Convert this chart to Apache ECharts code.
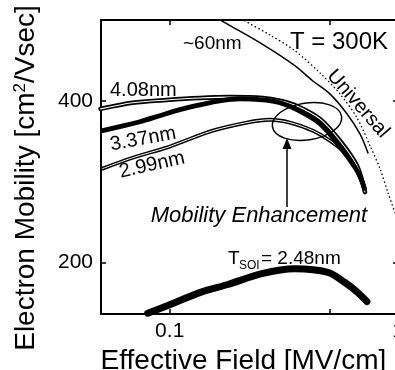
<!DOCTYPE html>
<html>
<head>
<meta charset="utf-8">
<script src="https://cdn.jsdelivr.net/npm/echarts@6/dist/echarts.min.js"></script>
<style>
  html, body { margin: 0; padding: 0; overflow: hidden; background: #fff; }
  #chart { width: 400px; height: 370px; }
</style>
</head>
<body>
<div id="chart"></div>
<script>
// Effective field [MV/cm] vs electron mobility [cm2/Vsec] for several SOI thicknesses
const tsoi408 = [[0.0498, 390], [0.0688, 397.5], [0.097, 401], [0.1354, 403.5], [0.1833, 404.5],
  [0.2558, 403.5], [0.3038, 400], [0.3606, 393.5], [0.455, 377.5], [0.5567, 350.5], [0.661, 319.5], [0.7166, 287]];
const tsoi337 = [[0.0508, 363], [0.0604, 368], [0.0739, 374], [0.0904, 381.5], [0.1106, 389], [0.1354, 395],
  [0.1656, 400], [0.2028, 402.5], [0.2558, 401], [0.3038, 397.5], [0.3606, 389], [0.455, 371.5],
  [0.5567, 343], [0.661, 313.5], [0.7093, 293.5]];
const tsoi299 = [[0.0508, 316], [0.0688, 329.5], [0.097, 342], [0.1106, 348], [0.1544, 363], [0.2177, 373],
  [0.2746, 376.5], [0.336, 373], [0.4238, 363], [0.5032, 350.5], [0.5855, 335.5], [0.661, 313.5], [0.7166, 291]];
const tsoi248 = [[0.0801, 137], [0.1, 147.5], [0.1354, 162.5], [0.1796, 172.5], [0.2532, 186], [0.3533, 192],
  [0.4932, 187.5], [0.5855, 175], [0.661, 163.5], [0.7311, 151.5]];
const tsoi60 = [[0.1575, 505], [0.1691, 499], [0.2532, 470.5], [0.3533, 443.5], [0.4238, 424.5], [0.5032, 408.5],
  [0.5974, 384], [0.6814, 359], [0.7386, 335.5]];
const universal = [[0.1987, 505], [0.2133, 499], [0.2746, 481.5], [0.3533, 462], [0.455, 434.5], [0.5567, 408.5],
  [0.661, 379], [0.7537, 344.5], [0.8338, 316], [0.9041, 286], [0.98, 258]];

const xTickValues = [0.1, 0.5, 1];
const xLabelValues = [0.1, 1];
const yTickValues = [200, 400];

const FONT = '"Liberation Sans", Arial, sans-serif';
const black = '#000';

const chart = echarts.init(document.getElementById('chart'), null, { renderer: 'canvas' });

function lineSeries(name, data, width, color, extra) {
  return Object.assign({
    name: name, type: 'line', data: data, smooth: 0.3, showSymbol: false, symbol: 'none',
    lineStyle: { color: color, width: width, cap: 'round', join: 'round' },
    emphasis: { disabled: true }, silent: true, z: 2
  }, extra || {});
}

const axisLineStyle = { color: black, width: 2 };

chart.setOption({
  animation: false,
  grid: { left: 101, top: 20, right: 2, bottom: 56, outerBoundsMode: 'none', containLabel: false },
  xAxis: [{
    type: 'log', logBase: 10, min: 0.05, max: 1, position: 'bottom',
    axisLine: { show: true, lineStyle: axisLineStyle },
    axisTick: { show: true, inside: true, length: 5, customValues: xTickValues, lineStyle: { color: black, width: 1.5 } },
    axisLabel: { customValues: xLabelValues, formatter: v => String(v), fontSize: 21, color: black, fontFamily: FONT, margin: 7 },
    splitLine: { show: false }, minorTick: { show: false },
    name: 'Effective Field [MV/cm]', nameLocation: 'middle', nameGap: 22,
    nameTextStyle: { fontSize: 28, color: black, fontFamily: FONT, padding: [0, 12, 0, 0] }
  }, {
    type: 'log', logBase: 10, min: 0.05, max: 1, position: 'top',
    axisLine: { show: true, lineStyle: axisLineStyle },
    axisTick: { show: true, inside: true, length: 5, customValues: xTickValues, lineStyle: { color: black, width: 1.5 } },
    axisLabel: { show: false }, splitLine: { show: false }
  }],
  yAxis: [{
    type: 'value', min: 136, max: 500, position: 'left',
    axisLine: { show: true, lineStyle: axisLineStyle },
    axisTick: { show: true, inside: true, length: 5, customValues: yTickValues, lineStyle: { color: black, width: 1.5 } },
    axisLabel: { customValues: yTickValues, fontSize: 21, color: black, fontFamily: FONT, margin: 8 },
    splitLine: { show: false },
    name: 'Electron Mobility [cm{sup|2}/Vsec]', nameLocation: 'middle', nameGap: 61,
    nameTextStyle: {
      fontSize: 28, color: black, fontFamily: FONT, padding: [0, 22, 0, 0],
      rich: { sup: { fontSize: 17, color: black, fontFamily: FONT, verticalAlign: 'top', lineHeight: 28 } }
    }
  }, {
    type: 'value', min: 136, max: 500, position: 'right',
    axisLine: { show: true, lineStyle: axisLineStyle },
    axisTick: { show: true, inside: true, length: 5, customValues: yTickValues, lineStyle: { color: black, width: 1.5 } },
    axisLabel: { show: false }, splitLine: { show: false }
  }],
  series: [
    lineSeries('~60nm', tsoi60, 1.5, black),
    lineSeries('Universal', universal, 1.3, black, { lineStyle: { color: black, width: 1.3, type: [1.5, 2.5] } }),
    lineSeries('4.08nm', tsoi408, 4.6, black),
    lineSeries('4.08nm inner', tsoi408, 1.1, '#fff', { z: 3 }),
    lineSeries('2.99nm', tsoi299, 3.8, black, { z: 4 }),
    lineSeries('2.99nm inner', tsoi299, 1.0, '#fff', { z: 5 }),
    lineSeries('3.37nm', tsoi337, 4.8, black, { z: 6 }),
    lineSeries('2.48nm', tsoi248, 7, black, { z: 6 })
  ],
  graphic: [
    { type: 'text', x: 290, y: 42, style: { text: 'T = 300K', font: '24px ' + FONT, fill: black, verticalAlign: 'middle' } },
    { type: 'text', x: 183, y: 44, style: { text: '~60nm', font: '19px ' + FONT, fill: black, verticalAlign: 'middle' } },
    { type: 'text', x: 110, y: 90, style: { text: '4.08nm', font: '20px ' + FONT, fill: black, verticalAlign: 'middle' } },
    { type: 'text', x: 143, y: 139, rotation: 0.18, style: { text: '3.37nm', font: '20px ' + FONT, fill: black, align: 'center', verticalAlign: 'middle' } },
    { type: 'text', x: 152, y: 165, rotation: 0.22, style: { text: '2.99nm', font: '20px ' + FONT, fill: black, align: 'center', verticalAlign: 'middle' } },
    { type: 'text', x: 358, y: 104, rotation: -0.85, style: { text: 'Universal', font: '20px ' + FONT, fill: black, align: 'center', verticalAlign: 'middle' } },
    { type: 'text', x: 259, y: 216, style: { text: 'Mobility Enhancement', font: 'italic 22px ' + FONT, fill: black, align: 'center', verticalAlign: 'middle' } },
    { type: 'text', x: 228, y: 259, style: { text: 'T', font: '19px ' + FONT, fill: black, verticalAlign: 'middle' } },
    { type: 'text', x: 239, y: 266, style: { text: 'SOI', font: '12px ' + FONT, fill: black, verticalAlign: 'middle' } },
    { type: 'text', x: 261, y: 259, style: { text: '= 2.48nm', font: '19px ' + FONT, fill: black, verticalAlign: 'middle' } },
    { type: 'ellipse', x: 307, y: 121.5, rotation: 0.15, shape: { cx: 0, cy: 0, rx: 35, ry: 18.5 },
      style: { fill: 'none', stroke: black, lineWidth: 1.5 }, z: 10 },
    { type: 'line', shape: { x1: 287, y1: 207, x2: 287, y2: 146 }, style: { stroke: black, lineWidth: 1.5 }, z: 10 },
    { type: 'polygon', shape: { points: [[287, 138], [282.5, 149], [291.5, 149]] }, style: { fill: black }, z: 10 }
  ]
});
</script>
</body>
</html>
